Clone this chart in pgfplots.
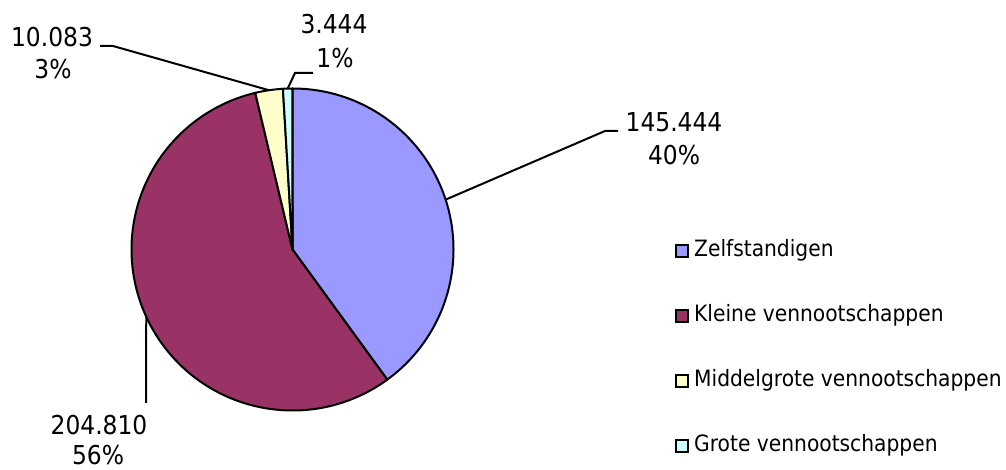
\documentclass[border=0pt]{standalone}
\usepackage{fontspec}
\setmainfont{DejaVu Sans Condensed}
\usepackage{pgfplots}
\usepackage{pgfplotstable}
\pgfplotsset{compat=1.18}
\usetikzlibrary{calc}

\definecolor{zelf}{HTML}{9999FF}
\definecolor{klein}{HTML}{993366}
\definecolor{middel}{HTML}{FFFFCC}
\definecolor{groot}{HTML}{CCFFFF}

% values in thousands, as printed on the chart
\pgfplotstableread{
name value
Zelfstandigen 145.444
Kleine 204.810
Middelgrote 10.083
Grote 3.444
}\piedata

\pgfplotstablegetelem{0}{value}\of\piedata\let\vA\pgfplotsretval
\pgfplotstablegetelem{1}{value}\of\piedata\let\vB\pgfplotsretval
\pgfplotstablegetelem{2}{value}\of\piedata\let\vC\pgfplotsretval
\pgfplotstablegetelem{3}{value}\of\piedata\let\vD\pgfplotsretval
\pgfmathsetmacro\tot{\vA+\vB+\vC+\vD}
% slice boundaries, clockwise from 12 o'clock
\pgfmathsetmacro\aA{90}
\pgfmathsetmacro\aB{\aA-(\vA/\tot)*360}
\pgfmathsetmacro\aC{\aB-(\vB/\tot)*360}
\pgfmathsetmacro\aD{\aC-(\vC/\tot)*360}
\pgfmathsetmacro\aE{\aD-(\vD/\tot)*360}
\pgfmathsetmacro\mA{(\aA+\aB)/2}
\pgfmathsetmacro\mB{(\aB+\aC)/2}
\pgfmathsetmacro\mC{(\aC+\aD)/2}
\pgfmathsetmacro\mD{(\aD+\aE)/2}
\def\R{161}

\begin{document}
\begin{tikzpicture}
\begin{axis}[
width=1006pt, height=470pt, scale only axis,
xmin=0, xmax=1006, ymin=0, ymax=470,
xtick=\empty, ytick=\empty,
hide axis, clip=false]

\coordinate (BL) at (axis cs:0,0);
\coordinate (TR) at (axis cs:1006,470);
\coordinate (C) at (axis cs:292.5,220.5);
\begin{scope}[draw=black, line width=2pt, line join=round]
\filldraw[fill=zelf] (C) -- ++(\aA:\R) arc[start angle=\aA, end angle=\aB, radius=\R] -- cycle;
\filldraw[fill=klein] (C) -- ++(\aB:\R) arc[start angle=\aB, end angle=\aC, radius=\R] -- cycle;
\filldraw[fill=middel] (C) -- ++(\aC:\R) arc[start angle=\aC, end angle=\aD, radius=\R] -- cycle;
\filldraw[fill=groot] (C) -- ++(\aD:\R) arc[start angle=\aD, end angle=\aE, radius=\R] -- cycle;
\end{scope}

% leader lines
\begin{scope}[line width=2pt]
\draw ($(C)+(\mA:\R)$) -- (axis cs:605,339) -- (axis cs:618,339);
\draw ($(C)+(\mB:\R)$) -- (axis cs:146,67);
\draw ($(C)+(\mC:\R)$) -- (axis cs:113,424) -- (axis cs:100,424);
\draw ($(C)+(\mD:\R)$) -- (axis cs:295,397) -- (axis cs:313,397);
\end{scope}

% data labels
\begin{scope}[font=\fontsize{26}{30}\selectfont, inner sep=0pt]
\node[anchor=base] at (axis cs:674,338) {145.444};
\node[anchor=base] at (axis cs:674,305) {40\%};
\node[anchor=base] at (axis cs:99,35) {204.810};
\node[anchor=base] at (axis cs:98,5) {56\%};
\node[anchor=base] at (axis cs:52,423) {10.083};
\node[anchor=base] at (axis cs:53,391) {3\%};
\node[anchor=base] at (axis cs:334,436) {3.444};
\node[anchor=base] at (axis cs:335,402) {1\%};
\end{scope}

% legend
\begin{scope}[font=\fontsize{22.5}{26}\selectfont, inner sep=0pt]
\draw[line width=2pt, fill=zelf] (axis cs:676,213) rectangle (axis cs:688,225);
\node[anchor=base west] at (axis cs:694,213) {Zelfstandigen};
\draw[line width=2pt, fill=klein] (axis cs:676,148) rectangle (axis cs:688,160);
\node[anchor=base west] at (axis cs:694,148) {Kleine vennootschappen};
\draw[line width=2pt, fill=middel] (axis cs:676,83) rectangle (axis cs:688,95);
\node[anchor=base west] at (axis cs:694,83) {Middelgrote vennootschappen};
\draw[line width=2pt, fill=groot] (axis cs:676,18) rectangle (axis cs:688,30);
\node[anchor=base west] at (axis cs:694,18) {Grote vennootschappen};
\end{scope}
\end{axis}
\pgfresetboundingbox
\useasboundingbox (BL) rectangle (TR);
\end{tikzpicture}
\end{document}
